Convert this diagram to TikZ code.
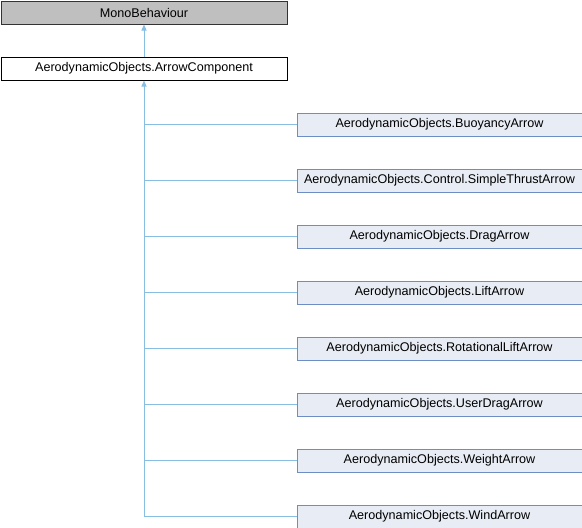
\documentclass[tikz,border=0pt]{standalone}
\usepackage{fontspec}
\setmainfont{Liberation Sans}
\usetikzlibrary{arrows.meta}
\definecolor{edgeblue}{RGB}{135,190,225}
\definecolor{childfill}{RGB}{232,236,244}
\definecolor{childdraw}{RGB}{108,142,196}
\definecolor{basefill}{RGB}{191,191,191}
\tikzset{
  box/.style={draw, line width=1pt, minimum height=23pt, inner sep=0pt, anchor=north west, font=\fontsize{12.6}{14}\selectfont},
  basebox/.style={box, fill=basefill, draw=black!80, minimum width=286pt},
  parentbox/.style={box, fill=white, draw=black, minimum width=286pt},
  childbox/.style={box, fill=childfill, draw=childdraw, minimum width=285pt},
  edge/.style={draw=edgeblue, line width=1pt},
  inh/.style={edge, -{Triangle[length=6pt,width=5pt]}}
}
\begin{document}
\begin{tikzpicture}[x=1pt,y=-1pt]
\useasboundingbox (0,0) rectangle (582,528);
\node[basebox] (mb) at (0.5,0.5) {MonoBehaviour};
\node[parentbox] (ac) at (0.5,56.5) {AerodynamicObjects.ArrowComponent};
\node[childbox] (c1) at (296.5,112.5) {AerodynamicObjects.BuoyancyArrow};
\node[childbox] (c2) at (296.5,168.5) {AerodynamicObjects.Control.SimpleThrustArrow};
\node[childbox] (c3) at (296.5,224.5) {AerodynamicObjects.DragArrow};
\node[childbox] (c4) at (296.5,280.5) {AerodynamicObjects.LiftArrow};
\node[childbox] (c5) at (296.5,336.5) {AerodynamicObjects.RotationalLiftArrow};
\node[childbox] (c6) at (296.5,392.5) {AerodynamicObjects.UserDragArrow};
\node[childbox] (c7) at (296.5,448.5) {AerodynamicObjects.WeightArrow};
\node[childbox] (c8) at (296.5,504.5) {AerodynamicObjects.WindArrow};
\draw[inh] (ac.north) -- (mb.south);
\draw[inh] (ac.south |- c8.west) -- (ac.south);
\foreach \c in {c1,c2,c3,c4,c5,c6,c7,c8}
  \draw[edge] (ac.south |- \c.west) -- (\c.west);
\end{tikzpicture}
\end{document}
